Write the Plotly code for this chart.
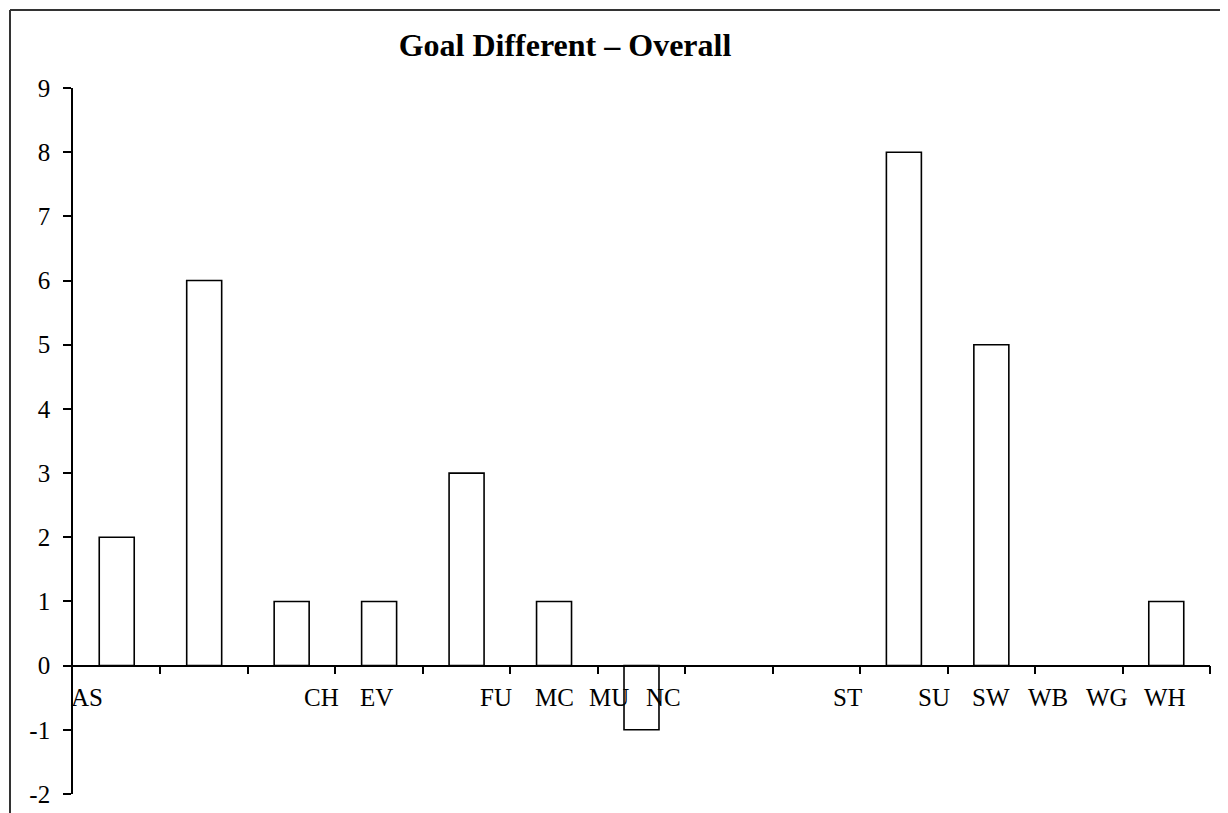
import plotly.graph_objects as go

# ---- data ----
bar_index = list(range(13))
goal_diff = [2, 6, 1, 1, 3, 1, -1, 0, 0, 8, 5, 0, 1]
axis_labels = ["AS", "CH", "EV", "FU", "MC", "MU", "NC", "ST", "SU", "SW", "WB", "WG", "WH"]
axis_label_x = [-0.34, 2.34, 2.975, 4.34, 5.0, 5.63, 6.25, 8.35, 9.34, 10.0, 10.65, 11.32, 11.99]
y_ticks = [-2, -1, 0, 1, 2, 3, 4, 5, 6, 7, 8, 9]
y_ticktext = ["-2", "-1", "0", "1", "2", "3", "4", "5", "6", "7", "8", "9"]
title_text = "Goal Different \u2013 Overall"

# the page body adds an 8px offset; size the figure to compensate
OFF = 8
W, H = 1228 - OFF, 813 - OFF
L, R, T, B = 73 - OFF, 18, 88 - OFF, 19
FONT = "Liberation Serif"

fig = go.Figure()
fig.add_trace(go.Bar(
    x=bar_index, y=goal_diff, width=0.4,
    marker=dict(color="white",
                line=dict(color="black",
                          width=[1.6 if v != 0 else 0 for v in goal_diff])),
    showlegend=False,
))

for name, xv in zip(axis_labels, axis_label_x):
    fig.add_annotation(x=xv, y=-0.5, xref="x", yref="y", text=name,
                       showarrow=False, xanchor="center", yanchor="middle",
                       font=dict(family=FONT, size=25, color="black"))

pw, ph = W - L - R, H - T - B
def px_x(p):
    return (p - OFF - L) / pw
def px_y(p):
    return 1 - (p - OFF - T) / ph

# outer frame (top and left edges visible)
fig.add_shape(type="line", xref="paper", yref="paper",
              x0=px_x(10), x1=px_x(1240), y0=px_y(10), y1=px_y(10),
              line=dict(color="#333333", width=2))
fig.add_shape(type="line", xref="paper", yref="paper",
              x0=px_x(10), x1=px_x(10), y0=px_y(10), y1=px_y(830),
              line=dict(color="#333333", width=2))

fig.update_layout(
    width=W, height=H,
    margin=dict(l=L, r=R, t=T, b=B, autoexpand=False),
    paper_bgcolor="white", plot_bgcolor="white",
    font=dict(family=FONT, size=25, color="black"),
    title=dict(text="<b>" + title_text + "</b>", x=(565 - OFF) / W, xref="container",
               xanchor="center", y=1 - (45 - OFF) / H, yanchor="middle",
               font=dict(family=FONT, size=32, color="black")),
    xaxis=dict(range=[-0.5, 12.5], showgrid=False, zeroline=False,
               showline=True, linecolor="black", linewidth=1.6,
               anchor="free", position=2 / 11,
               tickmode="array", tickvals=[i + 0.5 for i in bar_index],
               ticks="outside", ticklen=8, tickwidth=1.6, tickcolor="black",
               showticklabels=False),
    yaxis=dict(range=[-2, 9], showgrid=False, zeroline=False,
               showline=True, linecolor="black", linewidth=1.6,
               tickmode="array", tickvals=y_ticks, ticktext=y_ticktext,
               ticks="outside", ticklen=8, tickwidth=1.6, tickcolor="black",
               ticklabelstandoff=8,
               tickfont=dict(family=FONT, size=25, color="black")),
)

fig.write_html("out.html")
